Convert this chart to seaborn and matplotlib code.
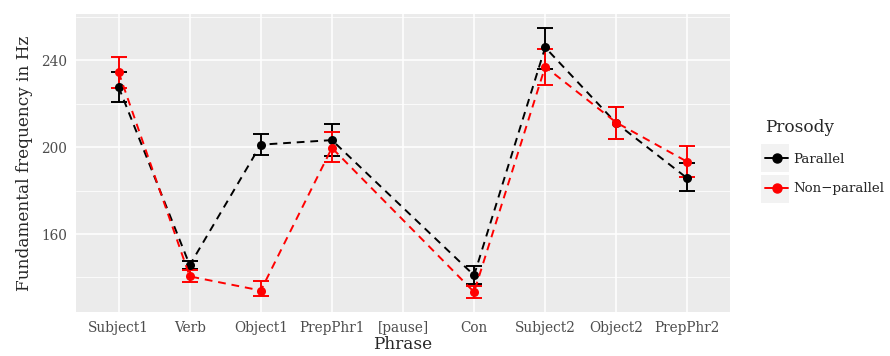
import matplotlib
matplotlib.use("Agg")
import matplotlib.pyplot as plt
from matplotlib.lines import Line2D
from matplotlib.patches import Rectangle
import numpy as np
import pandas as pd
import seaborn as sns

phrases = ["Subject1", "Verb", "Object1", "PrepPhr1", "[pause]", "Con",
           "Subject2", "Object2", "PrepPhr2"]
data_phrases = ["Subject1", "Verb", "Object1", "PrepPhr1", "Con",
                "Subject2", "Object2", "PrepPhr2"]
parallel_mean = [227.7, 145.7, 201.2, 203.3, 141.0, 246.0, 211.1, 185.7]
parallel_lo = [220.8, 143.7, 196.6, 196.2, 136.9, 236.2, 203.6, 179.7]
parallel_hi = [234.8, 147.6, 206.2, 210.8, 145.4, 255.1, 218.5, 192.9]
nonpar_mean = [234.5, 140.5, 134.0, 199.7, 133.3, 237.1, 211.4, 193.3]
nonpar_lo = [227.3, 137.9, 131.4, 193.1, 130.6, 228.5, 203.6, 186.3]
nonpar_hi = [241.4, 143.4, 138.3, 207.1, 136.2, 245.4, 218.5, 200.6]
groups = ["Parallel", "Non\u2212parallel"]
colors = {"Parallel": "black", "Non\u2212parallel": "#FF0000"}

rows = []
for g, m, lo, hi in [(groups[0], parallel_mean, parallel_lo, parallel_hi),
                     (groups[1], nonpar_mean, nonpar_lo, nonpar_hi)]:
    for p, a, b, c in zip(data_phrases, m, lo, hi):
        rows.append({"Phrase": p, "pos": phrases.index(p), "F0": a,
                     "lo": b, "hi": c, "Prosody": g})
df = pd.DataFrame(rows)

sns.set_theme(style="darkgrid")
plt.rcParams["font.family"] = ["DejaVu Serif"]

fig = plt.figure(figsize=(8.9, 3.56), dpi=100)
ax = fig.add_axes([76 / 890, 1 - 312 / 356, (730 - 76) / 890, (312 - 14) / 356])
ax.set_facecolor("#EBEBEB")

for g in groups:
    sub = df[df["Prosody"] == g]
    ax.errorbar(sub["pos"], sub["F0"],
                yerr=[sub["F0"] - sub["lo"], sub["hi"] - sub["F0"]],
                fmt="none", ecolor=colors[g], elinewidth=1.4, capsize=6,
                capthick=1.4, zorder=3)

n_before = len(ax.lines)
sns.lineplot(data=df, x="pos", y="F0", hue="Prosody", hue_order=groups,
             palette=colors, linewidth=1.4, marker="o",
             markersize=6.5, markeredgewidth=0, sort=False, ax=ax,
             legend=False, zorder=4)
for ln in ax.lines[n_before:]:
    ln.set_linestyle((0, (4, 3)))

ax.set_xlim(-0.6, len(phrases) - 0.4)
ax.set_ylim(124.1, 261.4)
ax.set_xticks(range(len(phrases)))
ax.set_xticklabels(phrases)
ax.set_yticks([160, 200, 240])
ax.set_yticks([140, 180, 220, 260], minor=True)
ax.grid(which="major", color="white", linewidth=1.1)
ax.grid(which="minor", color="white", linewidth=0.55)
ax.set_axisbelow(True)
for s in ax.spines.values():
    s.set_visible(False)
ax.tick_params(axis="both", which="major", length=3.5, width=1.0,
               color="#333333", labelcolor="#4D4D4D", labelsize=9.8, pad=3)
ax.tick_params(axis="both", which="minor", length=0)
ax.set_xlabel("Phrase", fontsize=12.2, labelpad=1)
ax.set_ylabel("Fundamental frequency in Hz", fontsize=12.2, labelpad=6)

# legend
handles = [Line2D([0], [0], color=colors[g], linestyle="-", linewidth=1.4,
                  marker="o", markersize=6.5) for g in groups]
leg = fig.legend(handles, groups, title="Prosody", loc="upper left",
                 bbox_to_anchor=(753 / 890, 1 - 107 / 356), frameon=False,
                 fontsize=9.6, title_fontsize=12.2, handlelength=1.75,
                 handletextpad=0.4, labelspacing=1.25, borderpad=0.4)
leg._legend_box.align = "left"
for i in range(2):
    fig.add_artist(Rectangle((761 / 890, 1 - (172 + 31 * i) / 356),
                             28 / 890, 28 / 356, transform=fig.transFigure,
                             facecolor="#F2F2F2", edgecolor="none", zorder=0))

fig.savefig("out.png", dpi=100)
